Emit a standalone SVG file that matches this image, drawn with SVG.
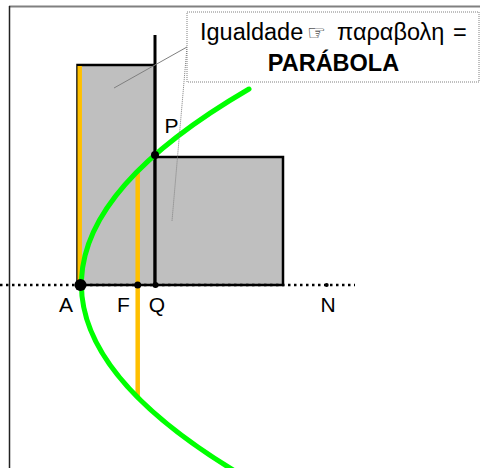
<svg xmlns="http://www.w3.org/2000/svg" width="480" height="468" viewBox="0 0 480 468">
<style>
.lbl{font-family:"Liberation Sans",Arial,sans-serif;font-size:21px;fill:#000;text-anchor:middle}
.rect{fill:#bfbfbf;stroke:#000;stroke-width:2.5}
.orange{stroke:#ffc000;stroke-width:4.5;fill:none}
.dot{fill:#000}
.co{font-family:"Liberation Sans",Arial,sans-serif;font-size:23.5px;fill:#000}
</style>
<rect width="480" height="468" fill="#fff"/>
<g id="frame">
<line x1="9" y1="6.5" x2="480" y2="6.5" stroke="#808080" stroke-width="2"/>
<line x1="9.5" y1="6" x2="9.5" y2="468" stroke="#222" stroke-width="1.5"/>
</g>
<g id="rect-left"><rect class="rect" x="77.5" y="65" width="77.5" height="220"/></g>
<g id="rect-right"><rect class="rect" x="155" y="157" width="128" height="128"/></g>
<g id="connectors">
<line id="axis" x1="0" y1="285" x2="355" y2="285" stroke="#000" stroke-width="2.5" stroke-dasharray="2.5 3.5"/>
<line id="vertical-PQ" x1="155" y1="35" x2="155" y2="285" stroke="#000" stroke-width="3"/>
<line id="orange-left" class="orange" x1="79.7" y1="66" x2="79.7" y2="285"/>
<line id="orange-F" class="orange" x1="137.7" y1="173" x2="137.7" y2="397"/>
<path id="parabola" d="M249,89 Q-78,279.5 233,470" fill="none" stroke="#00ff00" stroke-width="5" stroke-linecap="round"/>
<line id="leader1" x1="187" y1="47" x2="114" y2="88" stroke="#7f7f7f" stroke-width="1"/>
<line id="leader2" x1="187" y1="47" x2="172" y2="221" stroke="#7f7f7f" stroke-width="1" stroke-dasharray="1 1"/>
</g>
<g id="point-A"><circle class="dot" cx="80.5" cy="285" r="6"/><text class="lbl" x="66" y="312">A</text></g>
<g id="point-F"><circle class="dot" cx="137.7" cy="285" r="3.5"/><text class="lbl" x="123.5" y="312">F</text></g>
<g id="point-Q"><circle class="dot" cx="155.5" cy="285" r="3"/><text class="lbl" x="157" y="312">Q</text></g>
<g id="point-N"><circle class="dot" cx="326.7" cy="285" r="2"/><text class="lbl" x="328" y="312">N</text></g>
<g id="point-P"><circle class="dot" cx="155" cy="155" r="4"/><text class="lbl" x="171.5" y="133">P</text></g>
<g id="callout">
<rect x="187" y="12" width="292" height="70" fill="#fff" stroke="#808080" stroke-width="1" stroke-dasharray="1 1"/>
<text class="co"><tspan x="200" y="40">Igualdade</tspan><tspan x="307" y="40" font-family="DejaVu Sans,sans-serif" font-size="21px">☞</tspan><tspan x="337" y="40">παραβολη</tspan><tspan x="453" y="40">=</tspan></text>
<text class="co" x="333.5" y="71" font-weight="bold" font-size="21.5px" text-anchor="middle">PARÁBOLA</text>
</g>
</svg>
